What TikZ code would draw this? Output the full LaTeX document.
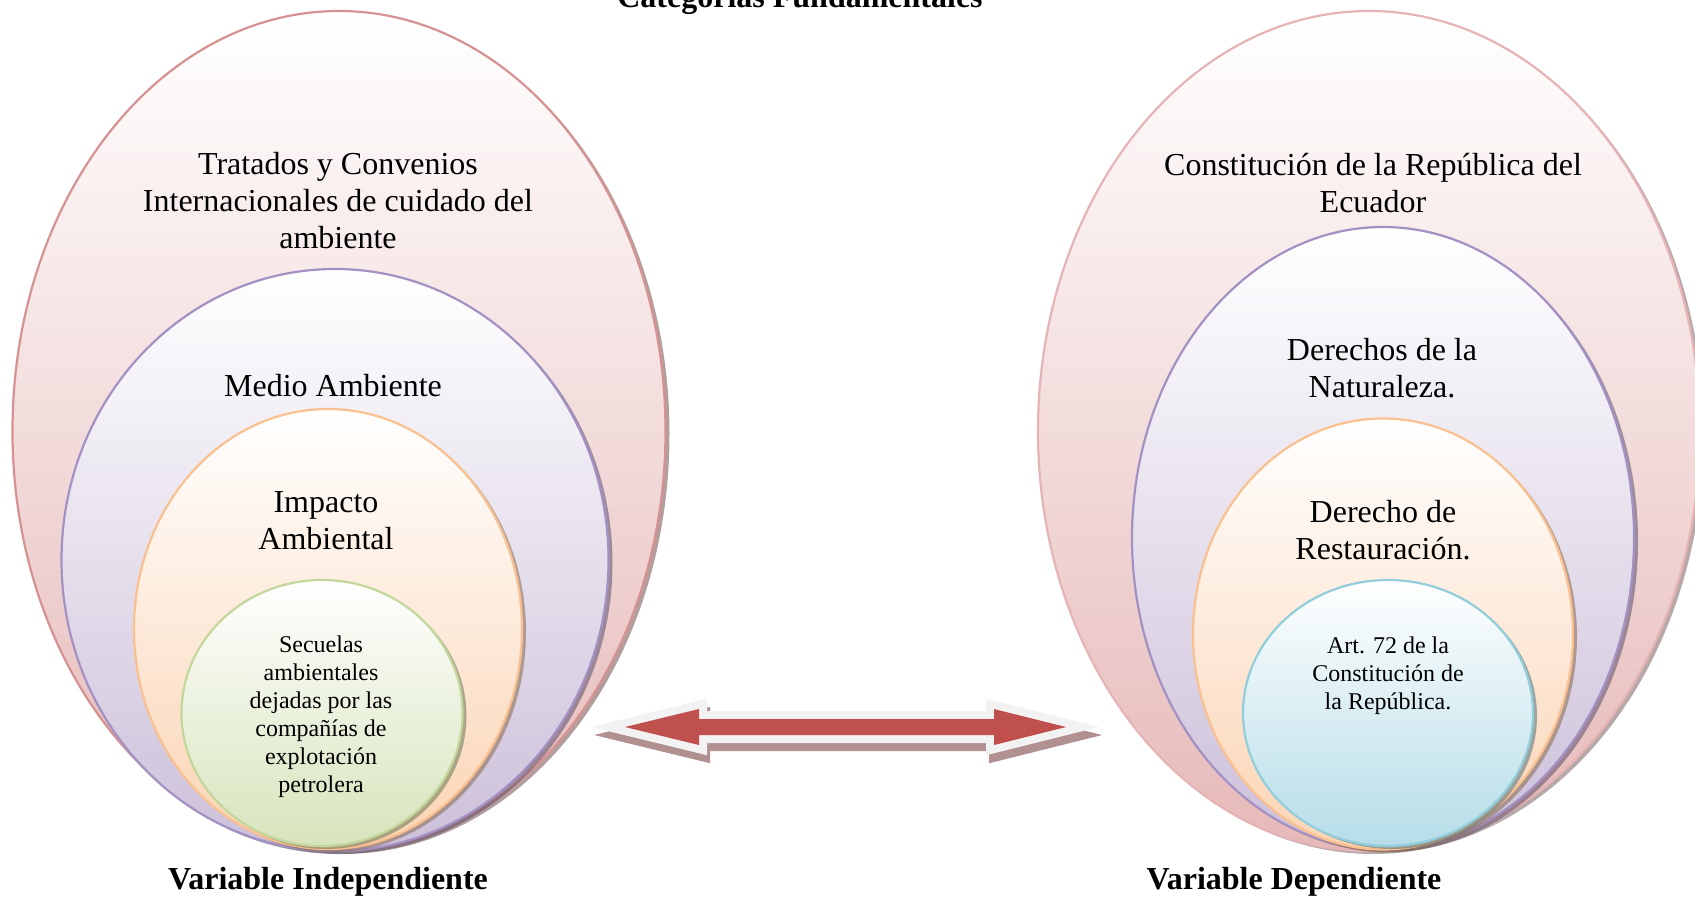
\documentclass[tikz,border=0pt]{standalone}
\usepackage{fontspec}
\setmainfont{Liberation Serif}
\usetikzlibrary{shapes.geometric}
\definecolor{pinkB}{RGB}{214,146,146}
\definecolor{pinkB2}{RGB}{230,180,182}
\definecolor{pinkF}{RGB}{230,185,184}
\definecolor{purB}{RGB}{163,145,195}
\definecolor{purF}{RGB}{204,192,218}
\definecolor{orB}{RGB}{250,192,143}
\definecolor{orF}{RGB}{251,212,180}
\definecolor{grB}{RGB}{195,214,155}
\definecolor{grF}{RGB}{215,228,188}
\definecolor{blB}{RGB}{146,205,220}
\definecolor{blF}{RGB}{182,221,232}
\definecolor{arR}{RGB}{192,80,77}
\definecolor{arW}{RGB}{242,242,242}
\definecolor{arS}{RGB}{176,144,144}
\tikzset{
  ring/.style={ellipse, inner sep=0pt, outer sep=0pt, line width=2.2pt, top color=white},
  shad/.style={ellipse, inner sep=0pt, outer sep=0pt, fill=black!45!#1, opacity=0.55},
  big/.style={font=\fontsize{32}{37}\selectfont, align=center, inner sep=0pt},
  small/.style={font=\fontsize{24}{28}\selectfont, align=center, inner sep=0pt},
  lab/.style={font=\fontsize{32}{38}\selectfont\bfseries, inner sep=0pt},
  dblarrow/.pic={\path[pic actions] (625,727) -- (699,709) -- (699,719) -- (994,719) -- (994,709) -- (1066,727) -- (994,745) -- (994,735) -- (699,735) -- (699,745) -- cycle;}
}
\begin{document}
\begin{tikzpicture}[x=1pt,y=-1pt]
\useasboundingbox (0,0) rectangle (1695,897);
\clip (0,0) rectangle (1695,897);
\fill[white] (0,0) rectangle (1695,897);
% ---- left set
\node[shad=pinkB, minimum width=653pt, minimum height=840pt] (los) at (343,434) {};
\node[ring, draw=pinkB, bottom color=pinkF, minimum width=653pt, minimum height=840pt] (lo) at (339,431) {};
\node[shad=purB, minimum width=547pt, minimum height=582pt] (lps) at (339,563) {};
\node[ring, draw=purB, bottom color=purF, minimum width=547pt, minimum height=582pt] (lp) at (335,560) {};
\node[shad=orB, minimum width=388pt, minimum height=440pt] (lrs) at (332,632) {};
\node[ring, draw=orB, bottom color=orF, minimum width=388pt, minimum height=440pt] (lr) at (328,629) {};
\node[shad=grB, minimum width=281pt, minimum height=266pt] (lgs) at (326,716) {};
\node[ring, draw=grB, bottom color=grF, minimum width=281pt, minimum height=266pt] (lg) at (322,713) {};
% ---- right set
\node[shad=pinkB2, minimum width=662pt, minimum height=840pt] (ros) at (1373,434) {};
\node[ring, draw=pinkB2, bottom color=pinkF, minimum width=662pt, minimum height=840pt] (ro) at (1369,431) {};
\node[shad=purB, minimum width=502pt, minimum height=622pt] (rps) at (1387,541) {};
\node[ring, draw=purB, bottom color=purF, minimum width=502pt, minimum height=622pt] (rp) at (1383,538) {};
\node[shad=orB, minimum width=380pt, minimum height=431pt] (rrs) at (1387,637) {};
\node[ring, draw=orB, bottom color=orF, minimum width=380pt, minimum height=431pt] (rr) at (1383,634) {};
\node[shad=blB, minimum width=290pt, minimum height=266pt] (rbs) at (1392,716) {};
\node[ring, draw=blB, bottom color=blF, minimum width=290pt, minimum height=266pt] (rb) at (1388,713) {};
% ---- texts
\node[lab, anchor=base] (title) at (800,7) {Categorías Fundamentales};
\node[big] (t1) at (338,201) {Tratados y Convenios\\Internacionales de cuidado del\\ambiente};
\node[big] (t2) at (333,386) {Medio Ambiente};
\node[big] (t3) at (326,521) {Impacto\\Ambiental};
\node[small] (t4) at (321,717) {Secuelas\\ambientales\\dejadas por las\\compañías de\\explotación\\petrolera};
\node[big] (u1) at (1373,183) {Constitución de la República del\\Ecuador};
\node[big] (u2) at (1382,368) {Derechos de la\\Naturaleza.};
\node[big] (u3) at (1383,530) {Derecho de\\Restauración.};
\node[small] (u4) at (1388,676) {Art. 72 de la\\Constitución de\\la República.};
\node[lab] (vi) at (328,882) {Variable Independiente};
\node[lab] (vd) at (1294,882) {Variable Dependiente};
% ---- double arrow
\pic[draw=arS, fill=arS, line width=16pt, line join=miter, miter limit=10, shift={(3,8)}] {dblarrow};
\pic[draw=arW, fill=arW, line width=16pt, line join=miter, miter limit=10] {dblarrow};
\pic[fill=arR] {dblarrow};
\end{tikzpicture}
\end{document}
